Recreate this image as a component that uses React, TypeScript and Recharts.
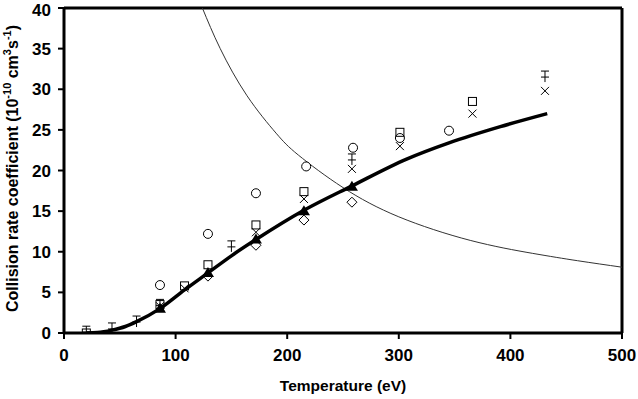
import React from "react";
import {
  ComposedChart,
  Line,
  Scatter,
  XAxis,
  YAxis,
  ReferenceLine,
  Label,
} from "recharts";

// thick model curve (with filled triangles on it)
const fitT = [20, 30, 43, 55, 65, 86, 108, 129, 150, 172, 215, 258, 307, 345, 391, 433];
const fitV = [0.0, 0.05, 0.35, 0.8, 1.4, 3.0, 5.3, 7.4, 9.5, 11.5, 15.1, 18.1, 21.4, 23.4, 25.4, 27.0];

// thin decreasing curve
const thinT = [124, 140, 164, 190, 210, 250, 300, 364, 420, 460, 500];
const thinV = [40.0, 35.0, 29.2, 24.6, 21.9, 17.9, 14.3, 11.4, 9.8, 8.9, 8.1];

const circleT = [86, 129, 172, 217, 259, 301, 345];
const circleV = [5.9, 12.2, 17.2, 20.5, 22.8, 24.0, 24.9];

const squareT = [20, 86, 108, 129, 172, 215, 301, 366];
const squareV = [0.0, 3.5, 5.8, 8.4, 13.3, 17.4, 24.7, 28.5];

const crossT = [86, 108, 172, 215, 258, 301, 366, 431];
const crossV = [3.3, 5.5, 12.4, 16.5, 20.2, 23.0, 27.0, 29.8];

const diamondT = [129, 172, 215, 258];
const diamondV = [7.0, 10.8, 13.9, 16.1];

const triangleT = [86, 129, 172, 215, 258];
const triangleV = [3.0, 7.4, 11.5, 15.0, 18.0];

const capT = [20, 43, 65, 86, 150, 258, 431];
const capV = [0.1, 0.5, 1.35, 3.4, 10.6, 21.3, 31.5];

const xTicks = [0, 100, 200, 300, 400, 500];
const yTicks = [0, 5, 10, 15, 20, 25, 30, 35, 40];

const pts = (t: number[], v: number[]) => t.map((x, i) => ({ x, y: v[i] }));

const circleShape = (p: any) => (
  <circle cx={p.cx} cy={p.cy} r={4.5} fill="#fff" stroke="#000" strokeWidth={1} />
);
const squareShape = (p: any) => (
  <rect x={p.cx - 4} y={p.cy - 4} width={8} height={8} fill="none" stroke="#000" strokeWidth={1} />
);
const crossShape = (p: any) => (
  <path
    d={`M${p.cx - 4},${p.cy - 4}L${p.cx + 4},${p.cy + 4}M${p.cx - 4},${p.cy + 4}L${p.cx + 4},${p.cy - 4}`}
    stroke="#000"
    strokeWidth={1}
  />
);
const diamondShape = (p: any) => (
  <path
    d={`M${p.cx},${p.cy - 5}L${p.cx + 5},${p.cy}L${p.cx},${p.cy + 5}L${p.cx - 5},${p.cy}Z`}
    fill="#fff"
    stroke="#000"
    strokeWidth={1}
  />
);
const triangleShape = (p: any) => (
  <path
    d={`M${p.cx},${p.cy - 6}L${p.cx + 6},${p.cy + 4}L${p.cx - 6},${p.cy + 4}Z`}
    fill="#000"
  />
);
const capShape = (p: any) => (
  <path
    d={`M${p.cx},${p.cy - 6}L${p.cx},${p.cy + 5}M${p.cx - 4},${p.cy - 6}L${p.cx + 4},${p.cy - 6}M${p.cx - 4},${p.cy}L${p.cx + 4},${p.cy}`}
    stroke="#000"
    strokeWidth={1}
  />
);

const YTitle = (props: any) => {
  const vb = props.viewBox || {};
  const cx = 12;
  const cy = vb.y + vb.height / 2 - 2;
  return (
    <text
      x={cx}
      y={cy}
      transform={`rotate(-90, ${cx}, ${cy})`}
      textAnchor="middle"
      dominantBaseline="central"
      fontFamily="Liberation Sans, Arial, sans-serif"
      fontWeight="bold"
      fontSize={16}
      fill="#000"
    >
      Collision rate coefficient (10
      <tspan fontSize={11} dy={-5}>-10</tspan>
      <tspan dy={5}> cm</tspan>
      <tspan fontSize={11} dy={-5}>3</tspan>
      <tspan dy={5}>s</tspan>
      <tspan fontSize={11} dy={-5}>-1</tspan>
      <tspan dy={5}>)</tspan>
    </text>
  );
};

export default function App() {
  const font = "Liberation Sans, Arial, sans-serif";
  const tickStyle = { fill: "#000", fontSize: 17, fontWeight: "bold", fontFamily: font };
  return (
    <div style={{ position: "absolute", left: 0, top: 0, background: "#fff" }}>
      <ComposedChart width={638} height={399} margin={{ top: 8, right: 16, bottom: 0, left: 0 }}>
        <XAxis
          dataKey="x"
          type="number"
          domain={[0, 500]}
          ticks={xTicks}
          allowDataOverflow
          tick={tickStyle}
          tickSize={6}
          tickMargin={10}
          axisLine={{ stroke: "#000", strokeWidth: 3 }}
          tickLine={{ stroke: "#000", strokeWidth: 2 }}
          height={66}
        >
          <Label
            value="Temperature (eV)"
            position="insideBottom"
            offset={8}
            style={{ fill: "#000", fontSize: 15.5, fontWeight: "bold", fontFamily: font }}
          />
        </XAxis>
        <YAxis
          dataKey="y"
          type="number"
          domain={[0, 40]}
          ticks={yTicks}
          allowDataOverflow
          tick={tickStyle}
          tickSize={6}
          tickMargin={7}
          axisLine={{ stroke: "#000", strokeWidth: 3 }}
          tickLine={{ stroke: "#000", strokeWidth: 2 }}
          width={64}
          label={<YTitle />}
        />
        <ReferenceLine y={40} stroke="#000" strokeWidth={3} />
        <ReferenceLine x={500} stroke="#000" strokeWidth={3} />
        <Line
          data={pts(thinT, thinV)}
          dataKey="y"
          type="natural"
          stroke="#333"
          strokeWidth={1}
          dot={false}
          isAnimationActive={false}
        />
        <Line
          data={pts(fitT, fitV)}
          dataKey="y"
          type="monotone"
          stroke="#000"
          strokeWidth={3.5}
          dot={false}
          isAnimationActive={false}
        />
        <Scatter data={pts(circleT, circleV)} shape={circleShape} isAnimationActive={false} />
        <Scatter data={pts(squareT, squareV)} shape={squareShape} isAnimationActive={false} />
        <Scatter data={pts(crossT, crossV)} shape={crossShape} isAnimationActive={false} />
        <Scatter data={pts(diamondT, diamondV)} shape={diamondShape} isAnimationActive={false} />
        <Scatter data={pts(triangleT, triangleV)} shape={triangleShape} isAnimationActive={false} />
        <Scatter data={pts(capT, capV)} shape={capShape} isAnimationActive={false} />
      </ComposedChart>
    </div>
  );
}
